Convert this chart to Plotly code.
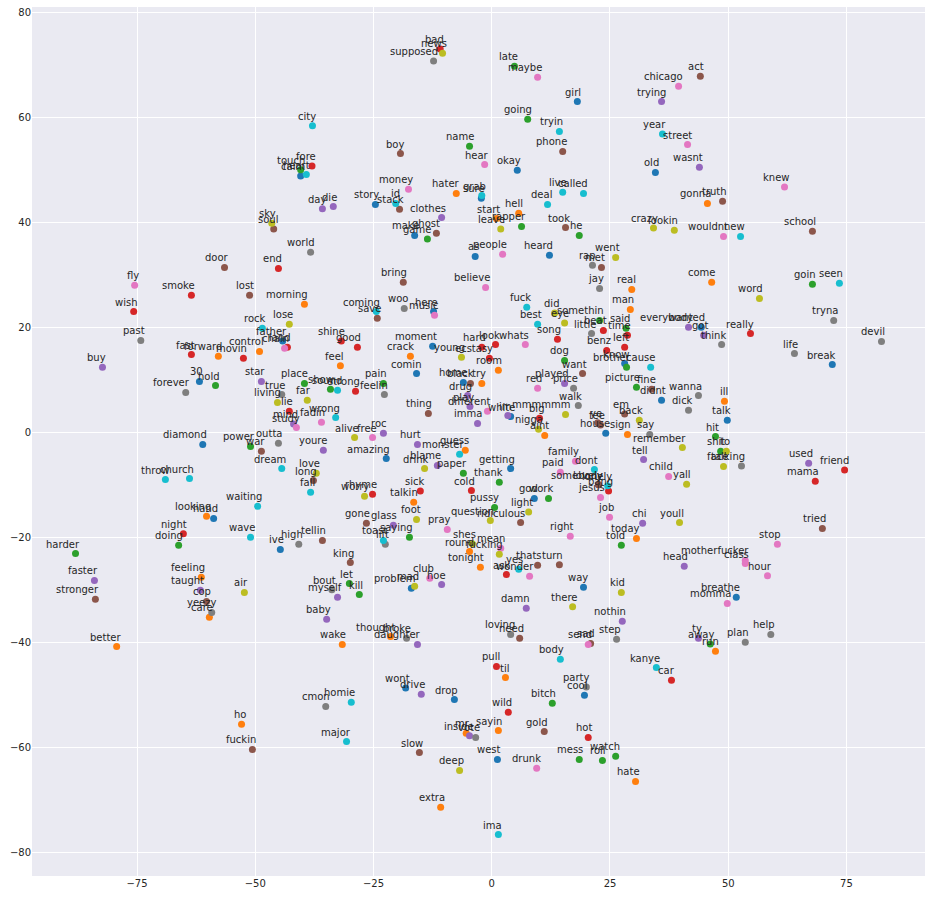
"""
Word embedding scatter (t-SNE style) with one colour per group.
"""

import plotly.graph_objects as go

blue_words = ["calm", "okay", "girl", "sure", "story", "make", "as", "heard", "old", "father", "30", "diamond", "hand", "ive", "here", "moment", "comin", "home", "didnt", "know", "white", "house", "amazing", "getting", "god", "wanted", "break", "talk", "problem", "way", "wont", "cool", "drop", "west", "breathe"]
blue_x = [-40.4, 5.4, 18.1, -2.2, -24.6, -16.3, -3.5, 12.2, 34.6, -44.2, -61.8, -61.1, -58.8, -44.7, -12.3, -12.5, -15.9, -6.0, 35.9, 28.1, 4.0, 24.1, -22.3, 4.0, 9.0, 44.3, 72.0, 49.8, -17.0, 19.4, -18.2, 19.6, -7.9, 1.2, 51.7]
blue_y = [48.8, 49.9, 63.0, 44.6, 43.4, 37.5, 33.5, 33.7, 49.5, 17.4, 9.7, -2.3, -16.4, -22.3, 23.0, 16.4, 11.2, 9.5, 6.1, 13.1, 3.0, -0.2, -5.0, -6.9, -12.6, 20.0, 12.9, 2.3, -29.7, -29.5, -48.7, -50.1, -50.9, -62.3, -31.4]

orange_words = ["hater", "hell", "start", "real", "gonna", "come", "morning", "control", "forward", "looking", "feeling", "care", "better", "ho", "crack", "feel", "try", "man", "room", "aint", "sign", "guess", "talkin", "round", "tonight", "today", "ill", "thought", "wake", "til", "mr", "sayin", "hate", "extra", "run"]
orange_x = [-7.5, 5.7, 1.0, 29.6, 45.6, 46.5, -39.6, -49.1, -57.8, -60.3, -61.4, -59.7, -79.3, -52.9, -17.2, -32.0, -2.1, 29.3, 1.4, 11.2, 28.7, -5.6, -16.5, -4.7, -2.4, 30.6, 49.2, -21.4, -31.6, 2.9, -5.4, 1.4, 30.4, -10.8, 47.3]
orange_y = [45.5, 41.7, 40.7, 27.2, 43.6, 28.6, 24.4, 15.4, 14.5, -16.0, -27.6, -35.2, -40.8, -55.6, 14.5, 12.7, 9.3, 23.4, 11.8, -0.6, -0.4, -3.4, -13.3, -22.7, -25.7, -20.2, 5.9, -38.9, -40.4, -46.7, -57.3, -56.8, -66.5, -71.4, -41.7]

green_words = ["touch", "late", "going", "name", "rapper", "he", "game", "goin", "hold", "place", "harder", "doing", "pain", "show", "somethin", "said", "dog", "brother", "picture", "paper", "saying", "thank", "work", "pussy", "told", "hit", "shit", "let", "kill", "bitch", "mess", "roll", "watch", "away", "power"]
green_x = [-40.4, 4.8, 7.6, -4.7, 6.3, 18.5, -13.6, 67.8, -58.4, -39.6, -88.0, -66.2, -22.9, -34.1, 22.8, 28.4, 15.4, 28.5, 30.6, -6.0, -17.4, 1.6, 12.0, 0.6, 27.4, 47.3, 48.4, -30.1, -28.0, 12.8, 18.5, 23.4, 26.2, 46.2, -51.0]
green_y = [50.0, 69.7, 59.6, 54.5, 39.2, 37.5, 36.8, 28.2, 8.9, 9.3, -23.1, -21.5, 9.3, 8.2, 21.3, 19.8, 13.7, 12.4, 8.6, -7.8, -20.0, -9.5, -12.6, -14.3, -21.5, -0.8, -3.6, -28.8, -30.9, -51.6, -62.3, -62.5, -61.7, -40.3, -2.7]

red_words = ["fore", "end", "smoke", "bad", "wish", "land", "fast", "movin", "lie", "night", "shine", "good", "strong", "hard", "look", "song", "ecstasy", "beat", "time", "left", "benz", "big", "sick", "cold", "rhyme", "somebody", "bang", "ask", "really", "friend", "mama", "pull", "wild", "hot", "car"]
red_x = [-38.0, -45.1, -63.5, -10.9, -75.7, -43.2, -63.5, -52.5, -42.8, -65.2, -31.8, -28.4, -28.8, -2.1, 0.8, 13.9, -0.5, 23.6, 28.7, 28.1, 24.3, 10.1, -15.1, -4.3, -25.2, 22.6, 24.7, 3.1, 54.7, 74.6, 68.4, 1.0, 3.5, 20.4, 38.0]
red_y = [50.7, 31.2, 26.1, 73.0, 23.0, 16.2, 14.8, 14.1, 4.0, -19.3, 17.4, 16.2, 7.8, 16.2, 16.7, 17.7, 14.1, 19.4, 18.5, 16.2, 15.6, 2.7, -11.2, -11.1, -11.8, -10.0, -11.2, -27.1, 18.8, -7.2, -9.3, -44.6, -53.3, -58.1, -47.2]

purple_words = ["day", "die", "clothes", "trying", "wasnt", "buy", "star", "mind", "youre", "faster", "taught", "baby", "drug", "play", "im", "imma", "roc", "hurt", "blame", "glass", "hoe", "played", "tell", "chi", "everybody", "got", "used", "head", "myself", "damn", "nothin", "daughter", "drive", "inside", "ty"]
purple_x = [-35.8, -33.5, -10.6, 35.9, 43.9, -82.3, -48.7, -41.9, -35.6, -84.0, -61.6, -34.9, -5.1, -4.6, 3.4, -3.0, -22.9, -15.7, -11.5, -20.8, -10.6, 15.4, 32.1, 31.9, 41.6, 44.8, 67.0, 40.7, -32.6, 7.3, 27.6, -15.7, -14.9, -4.7, 43.7]
purple_y = [42.6, 43.0, 40.9, 63.0, 50.5, 12.4, 9.7, 1.6, -3.4, -28.2, -30.1, -35.6, 7.0, 4.9, 3.2, 1.7, -0.2, -2.3, -6.3, -17.7, -29.0, 9.3, -5.2, -17.3, 20.0, 18.5, -5.9, -25.5, -31.4, -33.5, -36.0, -40.4, -49.9, -57.8, -39.2]

brown_words = ["soul", "door", "lost", "boy", "phone", "stack", "took", "ghost", "met", "bring", "act", "truth", "school", "war", "long", "tellin", "stronger", "cop", "fuckin", "save", "thing", "black", "want", "fine", "em", "ye", "fee", "gone", "king", "ridiculous", "thats", "turn", "tried", "need", "sad", "gold", "slow", "lovely"]
brown_x = [-46.1, -56.5, -51.2, -19.3, 15.0, -19.5, 15.6, -11.7, 23.2, -18.7, 44.1, 48.8, 67.8, -48.7, -37.7, -35.8, -83.8, -60.3, -50.6, -24.2, -13.4, -4.5, 19.2, 33.8, 28.1, 22.4, 23.0, -26.5, -29.9, 6.1, 9.7, 14.3, 69.9, 5.9, 20.9, 11.1, -15.3, 22.6]
brown_y = [38.7, 31.4, 26.1, 53.1, 53.5, 42.5, 39.0, 37.9, 31.4, 28.6, 67.8, 44.0, 38.3, -3.6, -9.2, -20.6, -31.8, -32.2, -60.4, 21.7, 3.6, 9.3, 11.2, 8.2, 3.5, 1.8, 1.4, -17.3, -24.8, -17.2, -25.3, -25.2, -18.3, -39.2, -40.2, -57.0, -61.0, -10.0]

pink_words = ["fly", "maybe", "hear", "money", "people", "believe", "chicago", "street", "knew", "wouldnt", "chain", "fadin", "study", "music", "free", "whats", "different", "red", "family", "paid", "jesus", "job", "right", "mean", "wonder", "child", "pray", "club", "stop", "motherfucker", "class", "hour", "send", "drunk", "momma"]
pink_x = [-75.5, 9.7, -1.5, -17.6, 2.3, -1.3, 39.5, 41.4, 61.9, 49.0, -43.8, -36.0, -41.3, -12.1, -25.2, 7.1, -0.9, 9.7, 17.7, 14.5, 23.0, 24.9, 16.6, 1.9, 8.0, 37.4, -9.4, -13.1, 60.4, 53.6, 53.6, 58.3, 20.4, 9.5, 49.8]
pink_y = [28.0, 67.6, 51.0, 46.3, 33.9, 27.6, 65.9, 54.8, 46.7, 37.3, 16.0, 1.9, 0.9, 22.3, -1.0, 16.7, 4.0, 8.4, -5.5, -7.6, -12.4, -16.2, -19.8, -22.1, -27.4, -8.4, -18.5, -27.8, -21.3, -24.4, -25.0, -27.3, -40.4, -64.0, -32.6]

gray_words = ["world", "supposed", "rap", "jay", "past", "true", "forever", "outta", "high", "yeezy", "cmon", "woo", "feelin", "little", "price", "walk", "say", "lift", "tryna", "devil", "think", "life", "wanna", "dick", "talking", "bout", "loving", "step", "party", "vote", "help", "plan", "broke"]
gray_x = [-38.3, -12.3, 21.3, 22.8, -74.2, -44.4, -64.7, -45.1, -40.8, -59.2, -35.1, -18.5, -22.7, 21.1, 17.3, 18.3, 33.4, -22.5, 72.3, 82.4, 48.6, 64.0, 43.7, 41.6, 52.8, -33.8, 4.0, 26.4, 20.0, -3.4, 59.0, 53.6, -18.0]
gray_y = [34.3, 70.7, 31.8, 27.4, 17.5, 7.2, 7.6, -2.1, -21.3, -34.3, -52.2, 23.6, 7.2, 18.8, 8.4, 5.1, -0.4, -21.3, 21.3, 17.3, 16.7, 15.0, 7.0, 4.2, -6.4, -30.0, -38.5, -39.4, -48.5, -58.1, -38.5, -40.0, -39.2]

olive_words = ["sky", "news", "leave", "went", "crazy", "lookin", "word", "lose", "far", "living", "love", "air", "young", "alive", "did", "eye", "mmmmmm", "nigga", "back", "drink", "worry", "foot", "shes", "light", "question", "fucking", "remember", "to", "face", "yall", "youll", "mad", "kid", "there", "deep"]
olive_x = [-46.5, -10.4, 1.9, 26.2, 34.2, 38.6, 56.6, -42.8, -39.0, -45.3, -37.1, -52.3, -6.4, -29.0, 13.3, 15.4, 15.6, 9.9, 31.2, -14.2, -26.9, -15.9, -4.1, 7.8, -0.3, 1.6, 40.3, 49.6, 49.0, 41.2, 39.7, -16.3, 27.4, 17.1, -6.8]
olive_y = [39.8, 72.2, 38.7, 33.3, 38.9, 38.5, 25.5, 20.6, 6.1, 5.7, -7.8, -30.5, 14.3, -1.0, 22.7, 20.8, 3.4, 0.6, 2.3, -6.9, -12.2, -16.6, -21.2, -15.2, -16.8, -23.2, -2.9, -3.6, -6.5, -9.9, -17.2, -29.3, -30.5, -33.2, -64.4]

cyan_words = ["city", "heart", "grab", "tryin", "live", "called", "id", "deal", "year", "new", "seen", "rock", "throw", "church", "dream", "fall", "waiting", "wave", "coming", "sound", "wrong", "fuck", "best", "cause", "monster", "toast", "dont", "lonely", "yes", "body", "homie", "major", "ima", "kanye"]
cyan_x = [-37.9, -39.2, -2.1, 14.3, 15.0, 19.4, -20.3, 11.8, 36.1, 52.6, 73.5, -48.5, -69.0, -63.9, -44.4, -38.3, -49.5, -51.0, -24.4, -32.6, -33.0, 7.4, 9.7, 33.6, -6.8, -22.9, 21.7, 24.5, 5.7, 14.5, -29.7, -30.7, 1.4, 34.8]
cyan_y = [58.4, 49.1, 45.1, 57.3, 45.7, 45.5, 43.6, 43.4, 56.8, 37.3, 28.4, 19.8, -9.0, -8.8, -6.9, -11.4, -14.1, -20.0, 23.0, 8.0, 2.8, 23.8, 20.6, 12.4, -4.2, -20.6, -7.1, -10.2, -26.1, -43.2, -51.4, -58.9, -76.6, -44.8]

x_ticks = [-75, -50, -25, 0, 25, 50, 75]
y_ticks = [-80, -60, -40, -20, 0, 20, 40, 60, 80]

series = [
    (blue_words, blue_x, blue_y, "#1f77b4"),
    (orange_words, orange_x, orange_y, "#ff7f0e"),
    (green_words, green_x, green_y, "#2ca02c"),
    (red_words, red_x, red_y, "#d62728"),
    (purple_words, purple_x, purple_y, "#9467bd"),
    (brown_words, brown_x, brown_y, "#8c564b"),
    (pink_words, pink_x, pink_y, "#e377c2"),
    (gray_words, gray_x, gray_y, "#7f7f7f"),
    (olive_words, olive_x, olive_y, "#bcbd22"),
    (cyan_words, cyan_x, cyan_y, "#17becf"),
]

fig = go.Figure()

for words, xs, ys, color in series:

    fig.add_trace(go.Scatter(
        x=xs,
        y=ys,
        mode="markers",
        text=words,
        marker=dict(color=color, size=7, line=dict(width=0)),
    ))

    for word, x, y in zip(words, xs, ys):
        fig.add_annotation(
            x=x,
            y=y,
            text=word,
            showarrow=False,
            xanchor="right",
            yanchor="bottom",
            xshift=5,
            yshift=3,
            borderpad=0,
            font=dict(family="DejaVu Sans", size=10, color="#262626"),
        )

fig.update_layout(
    width=931,
    height=897,
    showlegend=False,
    paper_bgcolor="white",
    plot_bgcolor="#EAEAF2",
    margin=dict(l=32, r=6, t=7, b=21),
    font=dict(family="DejaVu Sans", size=10, color="#262626"),
)

fig.update_xaxes(
    range=[-97.2, 91.6],
    tickmode="array",
    tickvals=x_ticks,
    showgrid=True,
    gridcolor="white",
    gridwidth=1,
    zeroline=False,
    showline=False,
    ticks="",
)

fig.update_yaxes(
    range=[-84.5, 81.0],
    tickmode="array",
    tickvals=y_ticks,
    showgrid=True,
    gridcolor="white",
    gridwidth=1,
    zeroline=False,
    showline=False,
    ticks="",
)

fig.write_html(
    "out.html",
    config={"displayModeBar": False},
    post_script="document.body.style.margin='0';",
)
